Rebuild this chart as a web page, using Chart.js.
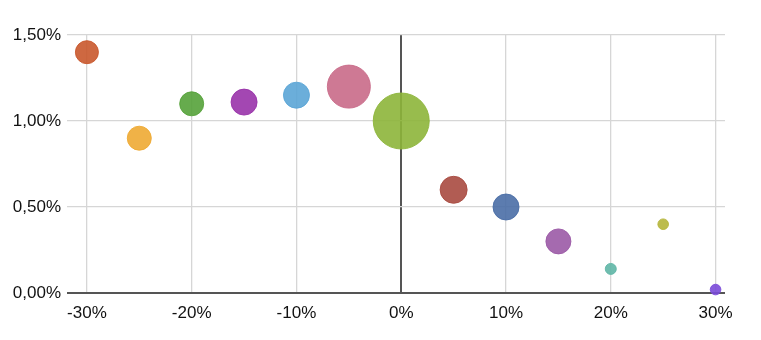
<!DOCTYPE html>
<html>
<head>
<meta charset="utf-8">
<script src="https://cdn.jsdelivr.net/npm/chart.js@4"></script>
<style>
  html, body { margin: 0; padding: 0; background: #fff; }
  #wrap { width: 761px; height: 340px; }
</style>
</head>
<body>
<div id="wrap"><canvas id="chart" width="761" height="340"></canvas></div>
<script>
// x positions (%) of each bubble
var xValues = [-30, -25, -20, -15, -10, -5, 0, 5, 10, 15, 20, 25, 30];
// y values (%) of each bubble
var yValues = [1.40, 0.90, 1.10, 1.11, 1.15, 1.20, 1.00, 0.60, 0.50, 0.30, 0.14, 0.40, 0.02];
// bubble sizes
var bubbleSizes = [11.5, 12, 12, 13, 13, 21.5, 28, 13.5, 13, 12.5, 5.5, 5.3, 5.3];
// bubble colours
var bubbleColors = ['#c9582c', '#eeaa33', '#55a23a', '#9933aa', '#5ba5d6', '#c96a88',
                    '#8db53a', '#a84a40', '#4a6ea6', '#9b5aa6', '#5fb6a6', '#b5b53a', '#7a4ad8'];
// tick values
var xTicks = [-30, -20, -10, 0, 10, 20, 30];
var yTicks = [0, 0.5, 1.0, 1.5];

// build bubble points
var points = [];
for (var i = 0; i < xValues.length; i++) {
    points.push({ x: xValues[i], y: yValues[i], r: bubbleSizes[i] });
}

// add alpha to a hex colour
function fade(hex, a) {
    var n = parseInt(hex.slice(1), 16);
    return 'rgba(' + (n >> 16) + ',' + ((n >> 8) & 255) + ',' + (n & 255) + ',' + a + ')';
}

// grid colour and width: dark for the zero line, light otherwise
function gridColor(ctx) {
    return ctx.tick && ctx.tick.value === 0 ? '#555555' : '#d6d6d6';
}
function gridWidth(ctx) {
    return ctx.tick && ctx.tick.value === 0 ? 2 : 1.3;
}

var tickFont = { family: 'Liberation Sans, Arial, sans-serif', size: 17 };

var chart = new Chart(document.getElementById('chart').getContext('2d'), {
    type: 'bubble',
    data: {
        datasets: [{
            data: points,
            backgroundColor: bubbleColors.map(function (c) { return fade(c, 0.9); }),
            borderColor: bubbleColors.map(function (c) { return fade(c, 0.9); }),
            borderWidth: 1,
            clip: false
        }]
    },
    options: {
        responsive: false,
        animation: false,
        layout: { padding: { top: 35, right: 36, left: 0, bottom: 0 } },
        plugins: { legend: { display: false }, tooltip: { enabled: false } },
        scales: {
            x: {
                type: 'linear',
                min: -31.9,
                max: 30.9,
                afterBuildTicks: function (scale) {
                    scale.ticks = xTicks.map(function (v) { return { value: v }; });
                },
                afterFit: function (scale) { scale.height = 47; },
                border: { display: false },
                grid: { color: gridColor, lineWidth: gridWidth, drawTicks: false },
                ticks: {
                    color: '#111',
                    font: tickFont,
                    padding: 10,
                    callback: function (v) { return v + '%'; }
                }
            },
            y: {
                type: 'linear',
                min: 0,
                max: 1.5,
                afterBuildTicks: function (scale) {
                    scale.ticks = yTicks.map(function (v) { return { value: v }; });
                },
                afterFit: function (scale) { scale.width = 67; },
                border: { display: false },
                grid: { color: gridColor, lineWidth: gridWidth, drawTicks: false },
                ticks: {
                    color: '#111',
                    font: tickFont,
                    padding: 6,
                    callback: function (v) { return v.toFixed(2).replace('.', ',') + '%'; }
                }
            }
        }
    }
});
</script>
</body>
</html>
